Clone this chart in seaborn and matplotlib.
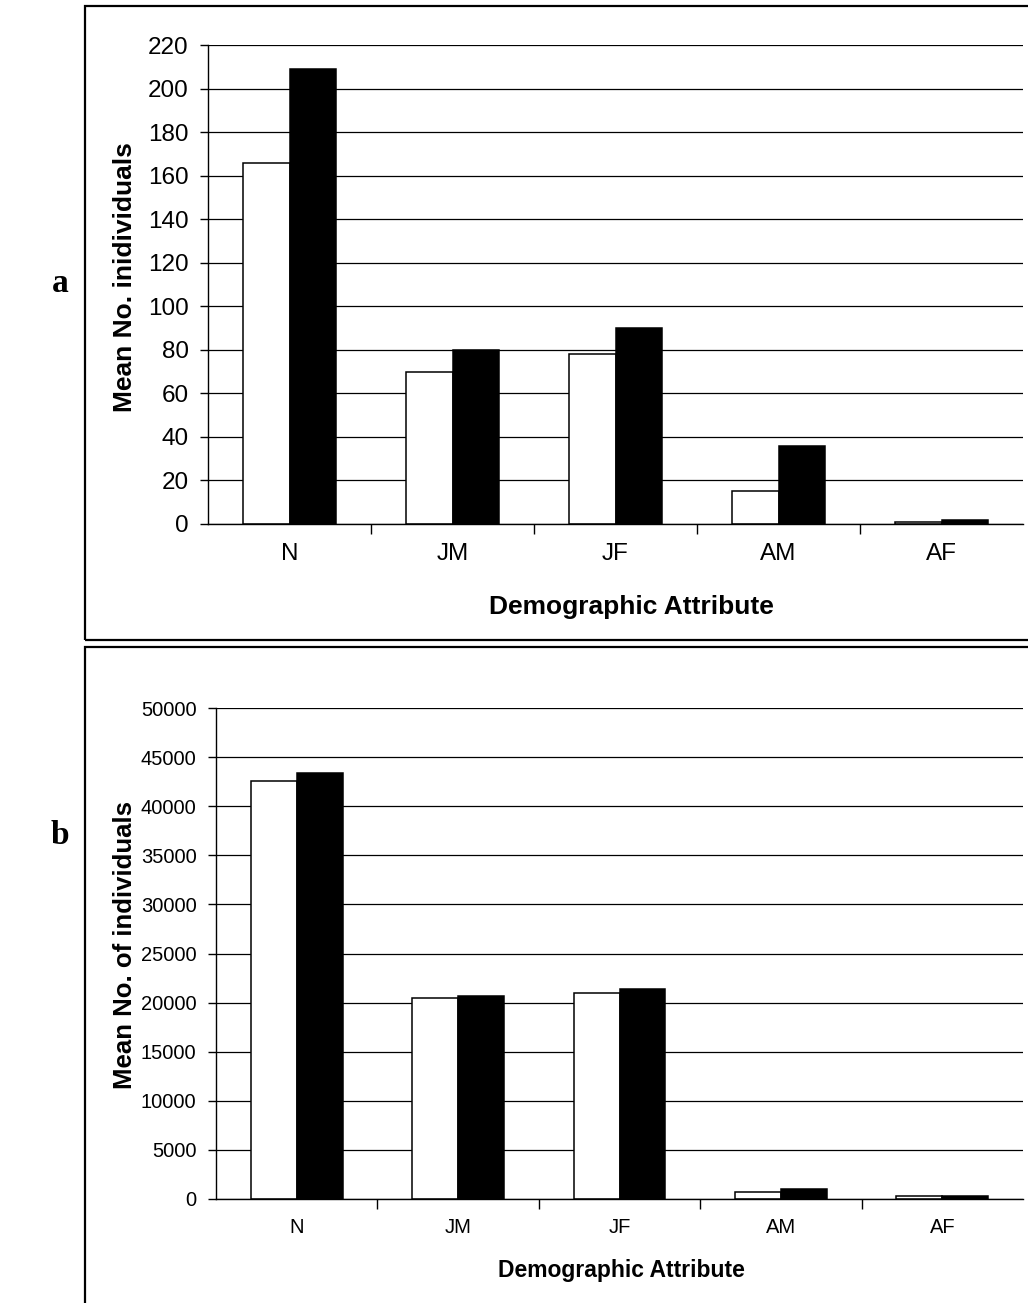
import pandas as pd
import seaborn as sns
import matplotlib.pyplot as plt
from matplotlib.patches import Rectangle
from matplotlib.ticker import FixedLocator, MultipleLocator

# data
attributes = ["N", "JM", "JF", "AM", "AF"]
series = ["Series 1", "Series 2"]
a_white = [166, 70, 78, 15, 1]
a_black = [209, 80, 90, 36, 2]
b_white = [42600, 20500, 21000, 680, 300]
b_black = [43400, 20700, 21400, 1020, 330]

sns.set_style("white")
plt.rcParams['font.family'] = ['Liberation Sans', 'DejaVu Sans']
plt.rcParams['text.color'] = 'black'
plt.rcParams['xtick.color'] = 'black'
plt.rcParams['ytick.color'] = 'black'
plt.rcParams['xtick.labelcolor'] = 'black'
plt.rcParams['ytick.labelcolor'] = 'black'

W, H = 1028, 1303
fig = plt.figure(figsize=(W / 100, H / 100), dpi=100)


def panel(rect, white, black, ymax, ystep, tick_fs):
    ax = fig.add_axes(rect)
    df = pd.DataFrame({
        "attr": attributes * 2,
        "series": [series[0]] * 5 + [series[1]] * 5,
        "value": white + black,
    })
    sns.barplot(data=df, x="attr", y="value", hue="series",
                palette=["white", "black"], saturation=1,
                edgecolor="black", linewidth=1.1, width=0.57,
                legend=False, ax=ax)
    ax.set_xlim(-0.5, 4.5)
    ax.set_ylim(0, ymax)
    ax.yaxis.set_major_locator(MultipleLocator(ystep))
    ax.yaxis.grid(True, color="black", lw=0.9)
    ax.set_axisbelow(True)
    for s in ["top", "right"]:
        ax.spines[s].set_visible(False)
    for s in ["left", "bottom"]:
        ax.spines[s].set_color("black")
        ax.spines[s].set_linewidth(1.0)
    ax.tick_params(axis="y", direction="out", length=6, width=1,
                   pad=8, labelsize=tick_fs, left=True)
    ax.tick_params(axis="x", which="major", length=0, pad=14,
                   labelsize=tick_fs)
    ax.xaxis.set_minor_locator(FixedLocator([0.5, 1.5, 2.5, 3.5]))
    ax.tick_params(axis="x", which="minor", direction="out", length=7,
                   width=1, bottom=True)
    ax.set_xlabel("")
    ax.set_ylabel("")
    return ax


axa = panel([208 / W, 1 - 524 / H, 815 / W, 479 / H],
            a_white, a_black, 220, 20, 17.5)
axb = panel([216 / W, 1 - 1199 / H, 807 / W, 491 / H],
            b_white, b_black, 50000, 5000, 14.5)

# outer frames
fig.add_artist(Rectangle((85 / W, 1 - 640 / H), 1.0, 634 / H,
                         transform=fig.transFigure, fill=False,
                         lw=1.6, ec="black", clip_on=False))
fig.add_artist(Rectangle((85 / W, -0.1), 1.0, 1 - 647 / H + 0.1,
                         transform=fig.transFigure, fill=False,
                         lw=1.6, ec="black", clip_on=False))

# axis titles
fig.text(631 / W, 1 - 607 / H, "Demographic Attribute", ha="center",
         va="center", fontsize=19, fontweight="bold")
fig.text(125 / W, 1 - 277 / H, "Mean No. inidividuals", ha="center",
         va="center", rotation=90, fontsize=19, fontweight="bold")
fig.text(621 / W, 1 - 1270 / H, "Demographic Attribute", ha="center",
         va="center", fontsize=16.5, fontweight="bold")
fig.text(125 / W, 1 - 945 / H, "Mean No. of individuals", ha="center",
         va="center", rotation=90, fontsize=18.5, fontweight="bold")

# panel letters
fig.text(60 / W, 1 - 283 / H, "a", ha="center", va="center",
         fontsize=24, fontweight="bold", family="Liberation Serif")
fig.text(60 / W, 1 - 835 / H, "b", ha="center", va="center",
         fontsize=24, fontweight="bold", family="Liberation Serif")

fig.savefig("out.png", dpi=100)
